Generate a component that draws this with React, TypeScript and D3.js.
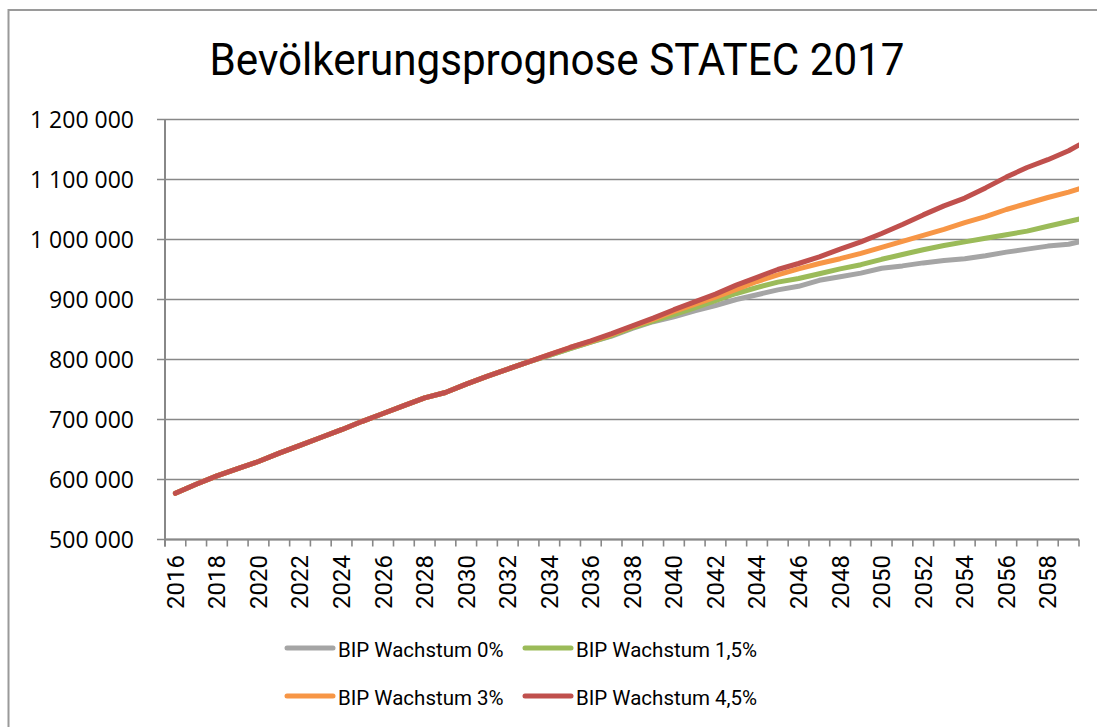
import React from 'react';
import * as d3 from 'd3';

const years = [
  2016, 2017, 2018, 2019, 2020, 2021, 2022, 2023, 2024, 2025,
  2026, 2027, 2028, 2029, 2030, 2031, 2032, 2033, 2034, 2035,
  2036, 2037, 2038, 2039, 2040, 2041, 2042, 2043, 2044, 2045,
  2046, 2047, 2048, 2049, 2050, 2051, 2052, 2053, 2054, 2055,
  2056, 2057, 2058, 2059, 2060,
];

// population in thousands
const bip0 = [
  577, 592, 606, 618, 630, 644, 657, 670, 683, 697,
  710, 723, 736, 745, 759, 772, 784, 796, 807, 818,
  829, 839, 852, 863, 871, 881, 890, 900, 908, 916,
  922, 932, 938, 944, 952, 956, 961, 965, 968, 973,
  979, 984, 989, 992, 1000,
];
const bip15 = [
  577, 592, 606, 618, 630, 644, 657, 670, 683, 697,
  710, 723, 736, 745, 759, 772, 784, 796, 807, 818,
  829, 840, 853, 864, 875, 886, 898, 910, 920, 929,
  935, 943, 951, 958, 967, 975, 983, 990, 996, 1002,
  1008, 1014, 1022, 1030, 1038,
];
const bip3 = [
  577, 592, 606, 618, 630, 644, 657, 670, 683, 697,
  710, 723, 736, 745, 759, 772, 784, 796, 808, 820,
  830, 842, 855, 867, 880, 892, 904, 917, 930, 941,
  951, 960, 968, 977, 987, 997, 1007, 1017, 1028, 1038,
  1050, 1060, 1070, 1079, 1090,
];
const bip45 = [
  577, 592, 606, 618, 630, 644, 657, 670, 683, 697,
  710, 723, 736, 745, 759, 772, 784, 796, 808, 820,
  831, 843, 856, 869, 883, 896, 909, 924, 937, 950,
  960, 971, 984, 996, 1010, 1025, 1041, 1056, 1069, 1086,
  1104, 1120, 1133, 1148, 1167,
];

const seriesNames = ['BIP Wachstum 0%', 'BIP Wachstum 1,5%', 'BIP Wachstum 3%', 'BIP Wachstum 4,5%'];
const seriesColors = ['#A5A5A5', '#9BBB59', '#F79646', '#C0504D'];
const seriesValues = [bip0, bip15, bip3, bip45];

const yTicks = [500000, 600000, 700000, 800000, 900000, 1000000, 1100000, 1200000];
const xLabelYears = years.filter(y => y % 2 === 0 && y <= 2058);

const W = 1097;
const H = 727;
const left = 165;
const right = 1079;
const top = 119.5;
const bottom = 539.5;

export default function App() {
  const x = d3.scaleLinear().domain([2015.5, 2059.5]).range([left, right]);
  const y = d3.scaleLinear().domain([500000, 1200000]).range([bottom, top]);
  const line = d3.line<number>()
    .x((_, i) => x(years[i]))
    .y(d => y(d * 1000));
  const fmt = (v: number) => d3.format(',')(v).replace(/,/g, ' ');
  const boundaries = d3.range(45).map(i => 2015.5 + i);
  const grid = '#888888';

  const legendPos = [
    { lx: 287, ly: 648 },
    { lx: 525, ly: 648 },
    { lx: 287, ly: 696 },
    { lx: 525, ly: 696 },
  ];

  return (
    <svg width={W} height={H} style={{ position: 'absolute', left: 0, top: 0, background: 'white' }}>
      <defs>
        <clipPath id="plot">
          <rect x={left} y={top - 30} width={right - left} height={bottom - top + 30} />
        </clipPath>
      </defs>
      <rect x={8.5} y={10} width={1200} height={1000} fill="white" stroke="#9a9a9a" strokeWidth={2} />

      <text x={557} y={75} textAnchor="middle" fontFamily="Roboto, sans-serif" fontSize={45}
        textLength={695} lengthAdjust="spacingAndGlyphs" fill="#000">
        Bevölkerungsprognose STATEC 2017
      </text>

      {yTicks.map(t => (
        <g key={t}>
          <line x1={left - 8} x2={right} y1={y(t)} y2={y(t)} stroke={grid} strokeWidth={1.6} />
          <text x={134} y={y(t)} dy="0.35em" textAnchor="end" fontFamily="'Open Sans', sans-serif"
            fontSize={23} fill="#000">{fmt(t)}</text>
        </g>
      ))}

      <line x1={left} x2={left} y1={top} y2={bottom + 7} stroke={grid} strokeWidth={2} />
      <line x1={left} x2={right} y1={bottom} y2={bottom} stroke={grid} strokeWidth={2} />
      {boundaries.map(b => (
        <line key={b} x1={x(b)} x2={x(b)} y1={bottom} y2={bottom + 7} stroke={grid} strokeWidth={1.6} />
      ))}

      {xLabelYears.map(yr => (
        <text key={yr} transform={`translate(${x(yr)},${555}) rotate(-90)`} dy="0.35em" textAnchor="end"
          fontFamily="Roboto, sans-serif" fontSize={24} fill="#000">{yr}</text>
      ))}

      <g clipPath="url(#plot)">
        {seriesValues.map((vals, i) => (
          <path key={i} d={line(vals) || ''} fill="none" stroke={seriesColors[i]} strokeWidth={5}
            strokeLinecap="round" strokeLinejoin="round" />
        ))}
      </g>

      {seriesNames.map((name, i) => (
        <g key={name}>
          <line x1={legendPos[i].lx} x2={legendPos[i].lx + 46} y1={legendPos[i].ly} y2={legendPos[i].ly}
            stroke={seriesColors[i]} strokeWidth={5} strokeLinecap="round" />
          <text x={legendPos[i].lx + 51} y={legendPos[i].ly + 2} dy="0.35em" fontFamily="Roboto, sans-serif"
            fontSize={20.5} fill="#000">{name}</text>
        </g>
      ))}
    </svg>
  );
}
